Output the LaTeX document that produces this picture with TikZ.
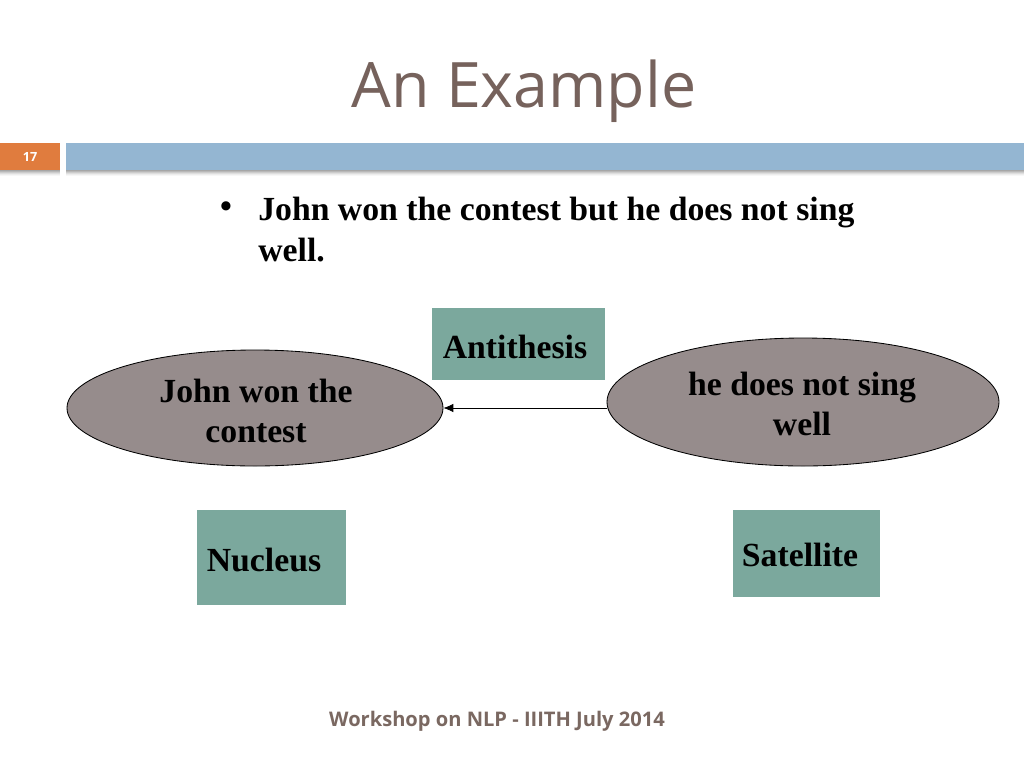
\documentclass[tikz,border=0pt]{standalone}
\usepackage{fontspec}
\setmainfont{Liberation Serif}
\newfontfamily\osans{Open Sans}
\usetikzlibrary{shapes.geometric,arrows.meta}
\definecolor{titlec}{HTML}{76625C}
\definecolor{footc}{HTML}{7A6861}
\definecolor{orangec}{HTML}{E07C3E}
\definecolor{barc}{HTML}{94B6D2}
\definecolor{boxc}{HTML}{7BA89D}
\definecolor{ellc}{HTML}{968C8C}
\tikzset{
  greenbox/.style={draw=none,fill=boxc,inner sep=0pt,anchor=north west},
  ell/.style={ellipse,draw=black,line width=0.6pt,fill=ellc,inner sep=0pt},
  lbl/.style={font=\fontsize{24}{28.5}\selectfont\bfseries,align=center,inner sep=0pt},
  conn/.style={-{Latex[length=7pt,width=6pt]},line width=0.5pt}
}
\begin{document}
\begin{tikzpicture}[x=0.25mm,y=-0.25mm]
\useasboundingbox (0,0) rectangle (1024,768);
\fill[white] (0,0) rectangle (1024,768);
% title
\node[font=\osans\fontsize{44.6}{50}\selectfont,text=titlec,inner sep=0pt] (title) at (524,91) {An Example};
% shadows
\foreach \i/\o in {0/0.35,1/0.28,2/0.2,3/0.13,4/0.07,5/0.03}{
  \fill[black,opacity=\o] (0,170+\i) rectangle (60,171+\i);
  \fill[black,opacity=\o] (66,170+\i) rectangle (1024,171+\i);
}
% bars
\node[fill=orangec,minimum width=60*0.25mm,minimum height=27*0.25mm,inner sep=0pt,anchor=north west] (num) at (0,143) {};
\node[font=\osans\fontsize{9}{10}\selectfont\bfseries,text=white,inner sep=0pt] (numt) at (30,156.5) {17};
\node[fill=barc,minimum width=958*0.25mm,minimum height=27*0.25mm,inner sep=0pt,anchor=north west] (bar) at (66,143) {};
% bullet
\node[lbl] (bul) at (226,210) {\textbullet};
\node[font=\fontsize{24}{28.8}\selectfont\bfseries,align=left,inner sep=0pt,anchor=north west] (btext) at (258,197) {John won the contest but he does not sing\\well.};
% boxes
\node[greenbox,minimum width=173*0.25mm,minimum height=72*0.25mm] (anti) at (432,308) {};
\node[lbl] (antit) at (515,347) {Antithesis};
\node[greenbox,minimum width=149*0.25mm,minimum height=95*0.25mm] (nuc) at (197,510) {};
\node[lbl] (nuct) at (264,560) {Nucleus};
\node[greenbox,minimum width=147*0.25mm,minimum height=87*0.25mm] (sat) at (733,510) {};
\node[lbl] (satt) at (800,555) {Satellite};
% ellipses
\node[ell,minimum width=376*0.25mm,minimum height=116*0.25mm] (left) at (255,408) {};
\node[lbl] (leftt) at (256,411) {John won the\\contest};
\node[ell,minimum width=392*0.25mm,minimum height=128*0.25mm] (right) at (803,402) {};
\node[lbl] (rightt) at (802,404) {he does not sing\\well};
% arrow
\draw[conn] (right.west |- 0,408) -- (left.east |- 0,408);
% footer
\node[font=\osans\fontsize{14.3}{16}\selectfont\bfseries,text=footc,inner sep=0pt] (foot) at (497,721) {Workshop on NLP - IIITH July 2014};
\end{tikzpicture}
\end{document}
